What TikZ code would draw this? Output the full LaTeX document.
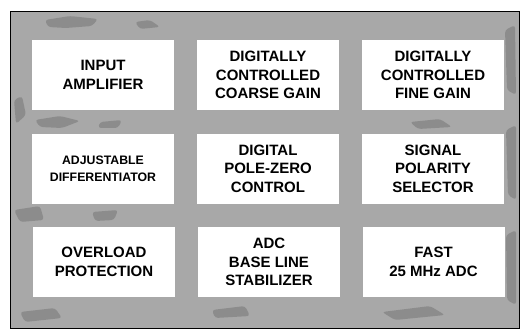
\documentclass[tikz,border=0pt]{standalone}
\usepackage{fontspec}
\setmainfont{Liberation Sans}
\definecolor{bggray}{RGB}{168,168,168}
\definecolor{blotch}{RGB}{60,60,60}
\begin{document}
\begin{tikzpicture}[x=1pt,y=-1pt,
  blk/.style={fill=white,draw=none,minimum width=142pt,minimum height=70pt,inner sep=0pt,
    align=center,font=\fontsize{15}{18.5}\selectfont\bfseries},
  smallblk/.style={blk,font=\fontsize{12.3}{17}\selectfont\bfseries},
  spot/.style={fill=blotch,opacity=0.25,draw=none,rounded corners=3pt}]
\useasboundingbox (0,0) rectangle (520,329);
\fill[white] (0,0) rectangle (520,329);
\node[draw=black,line width=0.8pt,fill=bggray,minimum width=509pt,minimum height=317pt,inner sep=0pt,anchor=north west] (frame) at (10,11) {};
% texture blotches
\fill[spot] (45,20) -- (70,16) -- (98,19) -- (92,26) -- (66,28) -- (48,27) -- cycle;
\fill[spot] (135,22) -- (150,20) -- (160,27) -- (140,29) -- cycle;
\fill[spot] (14,100) -- (22,96) -- (26,115) -- (16,124) -- cycle;
\fill[spot] (35,120) -- (60,116) -- (80,121) -- (62,128) -- (40,127) -- cycle;
\fill[spot] (100,122) -- (122,120) -- (118,128) -- (98,128) -- cycle;
\fill[spot] (14,210) -- (40,206) -- (44,220) -- (20,222) -- cycle;
\fill[spot] (92,212) -- (118,210) -- (114,220) -- (95,221) -- cycle;
\fill[spot] (20,312) -- (55,308) -- (62,318) -- (25,322) -- cycle;
\fill[spot] (212,310) -- (245,306) -- (250,316) -- (215,318) -- cycle;
\fill[spot] (382,312) -- (430,306) -- (445,315) -- (395,320) -- cycle;
\fill[spot] (505,30) -- (515,25) -- (516,95) -- (507,90) -- cycle;
\fill[spot] (506,130) -- (516,125) -- (516,200) -- (508,195) -- cycle;
\fill[spot] (506,235) -- (516,230) -- (516,305) -- (507,300) -- cycle;
\fill[spot] (410,122) -- (440,119) -- (452,127) -- (418,129) -- cycle;
\node[blk] (ia) at (103,75) {INPUT\\AMPLIFIER};
\node[blk] (cg) at (268,75) {DIGITALLY\\CONTROLLED\\COARSE GAIN};
\node[blk] (fg) at (433,75) {DIGITALLY\\CONTROLLED\\FINE GAIN};
\node[smallblk] (ad) at (103,168.5) {ADJUSTABLE\\DIFFERENTIATOR};
\node[blk] (pz) at (268,168.5) {DIGITAL\\POLE-ZERO\\CONTROL};
\node[blk] (sp) at (433,168.5) {SIGNAL\\POLARITY\\SELECTOR};
\node[blk] (op) at (104,262) {OVERLOAD\\PROTECTION};
\node[blk] (bl) at (269,262) {ADC\\BASE LINE\\STABILIZER};
\node[blk] (adc) at (433.5,262) {FAST\\25 MHz ADC};
\end{tikzpicture}
\end{document}
